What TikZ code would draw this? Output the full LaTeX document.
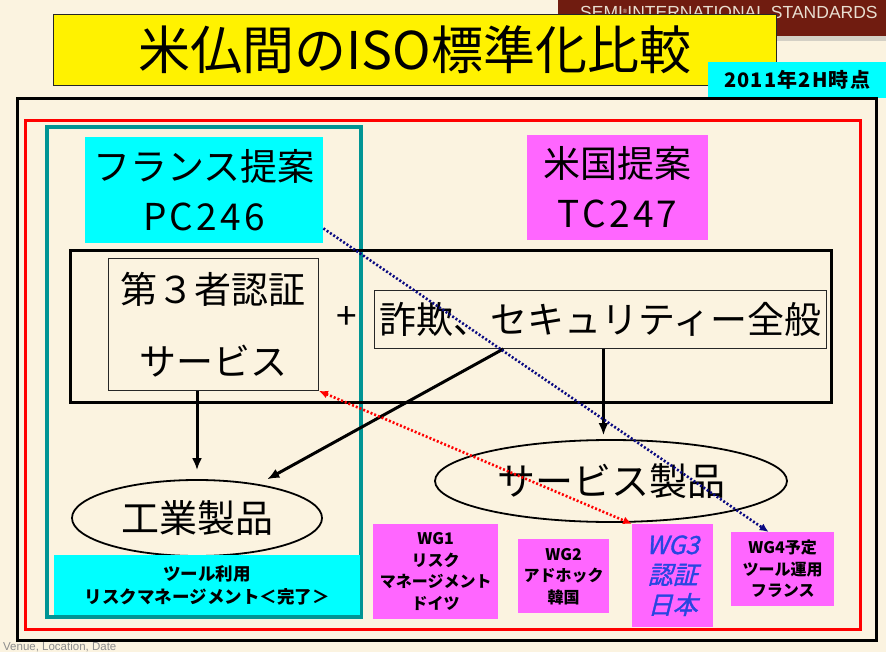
\documentclass[tikz,border=0pt]{standalone}
\usepackage{fontspec}
\setmainfont{Noto Sans CJK JP}
\newfontfamily\bannerfont{Liberation Sans}
\newfontfamily\wgslant{Noto Sans CJK JP}[FakeSlant=0.25, FakeBold=1.3]
\usetikzlibrary{arrows.meta,shapes.geometric}

\begin{document}
\begin{tikzpicture}[
  x=1pt, y=-1pt,
  big/.style={font=\fontsize{37}{50}\selectfont, align=center},
  small/.style={font=\bfseries\fontsize{16}{21.5}\selectfont, align=center},
  fillbox/.style={inner sep=0pt, anchor=north west},
  thinbox/.style={draw=black!85, line width=0.9pt, inner sep=0pt, anchor=north west},
  prod/.style={ellipse, draw=black, line width=1.8pt, inner sep=0pt, font=\fontsize{38}{40}\selectfont},
  frame/.style={line width=3pt},
  flow/.style={draw=black, line width=3pt, -{Latex[length=12pt,width=10pt]}},
  link/.style={line width=2.6pt, dash pattern=on 2pt off 2pt}
]
\definecolor{slidebg}{RGB}{251,243,224}
\definecolor{banner}{RGB}{112,28,16}
\definecolor{bannertext}{RGB}{232,222,208}
\definecolor{panelteal}{RGB}{0,148,148}
\definecolor{boxcyan}{RGB}{0,255,255}
\definecolor{wgpink}{RGB}{255,102,255}
\definecolor{wgblue}{RGB}{40,70,225}
\definecolor{linknavy}{RGB}{10,10,130}

% slide background and template
\fill[slidebg] (0,0) rectangle (886,652);
\useasboundingbox (0,0) rectangle (886,652);
\fill[black!35, opacity=0.45] (562,4) rectangle (886,41);
\node[fillbox, fill=banner, minimum width=328pt, minimum height=36pt] (banner) at (558,0) {};
\node[anchor=base west, inner sep=0pt, text=bannertext,
  font=\bannerfont\fontsize{17.5}{18}\selectfont] (semi) at (580,19)
  {SEMI\raisebox{0.6ex}{\fontsize{6}{6}\selectfont\textregistered}INTERNATIONAL STANDARDS};
\node[anchor=base west, inner sep=0pt, text=black!45,
  font=\bannerfont\fontsize{11.5}{12}\selectfont] (venue) at (3,650) {Venue, Location, Date};

% title
\node[fillbox, fill=yellow, draw=black!85, line width=0.8pt, minimum width=723pt, minimum height=71pt,
  font=\fontsize{52}{52}\selectfont] (title) at (53,14) {米仏間のISO標準化比較};
\node[fillbox, fill=boxcyan, minimum width=178pt, minimum height=36pt,
  font=\bfseries\fontsize{20}{20}\selectfont] (date) at (708,62)
  {\addfontfeature{LetterSpace=6}2011年2H時点};

% frames
\draw[frame] (17,99) rectangle (876,640);
\draw[frame, red] (25,121) rectangle (860,629);
\draw[frame, panelteal, line width=3.5pt] (47,127) rectangle (361,617);

% proposals
\node[fillbox, fill=boxcyan, big, minimum width=238pt, minimum height=106pt] (pc) at (85,137)
  {フランス提案\\{\addfontfeature{LetterSpace=9}PC246}};
\node[fillbox, fill=wgpink, big, minimum width=181pt, minimum height=105pt] (tc) at (527,135)
  {米国提案\\{\addfontfeature{LetterSpace=9}TC247}};

% scope frame
\draw[frame] (70,251) rectangle (831,402);
\node[thinbox, big, minimum width=210pt, minimum height=132pt,
  font=\fontsize{37}{72}\selectfont] (cert) at (108,258) {第３者認証\\サービス};
\node[big, inner sep=0pt] (plus) at (347,318) {+};
\node[thinbox, big, minimum width=452pt, minimum height=58pt] (fraud) at (374,290) {詐欺、セキュリティー全般};

% products
\node[prod, minimum width=250pt, minimum height=76pt] (ind) at (197,518) {工業製品};
\node[prod, minimum width=352pt, minimum height=82pt] (svc) at (611,481) {サービス製品};

% bottom boxes
\node[fillbox, fill=boxcyan, small, font=\bfseries\fontsize{17.5}{22.5}\selectfont,
  minimum width=306pt, minimum height=60pt] (tool) at (54,555) {ツール利用\\リスクマネージメント＜完了＞};
\node[fillbox, fill=wgpink, small, minimum width=125pt, minimum height=95pt] (wg1) at (373,524) {WG1\\リスク\\マネージメント\\ドイツ};
\node[fillbox, fill=wgpink, small, minimum width=91pt, minimum height=74pt] (wg2) at (518,539) {WG2\\アドホック\\韓国};
\node[fillbox, fill=wgpink, align=center, text=wgblue, font=\wgslant\fontsize{25}{30}\selectfont,
  minimum width=81pt, minimum height=103pt] (wg3) at (632,524) {WG3\\認証\\日本};
\node[fillbox, fill=wgpink, small, minimum width=103pt, minimum height=74pt] (wg4) at (731,532) {WG4予定\\ツール運用\\フランス};

% flows
\draw[flow, shorten >=9pt] (cert.south -| ind.north) -- (ind.north);
\draw[flow, shorten >=10pt] ([xshift=-97pt]fraud.south) -- (ind);
\draw[flow, shorten >=4pt] ([xshift=3pt]fraud.south) -- ([xshift=3pt]fraud.south |- svc.north);
\draw[link, linknavy, -{Latex[length=9pt,width=8pt]}] ([yshift=15pt]pc.south east) -- ([xshift=-14pt]wg4.north);
\draw[link, red, {Latex[length=9pt,width=8pt]}-{Latex[length=9pt,width=8pt]}] (cert.south east) -- (wg3.north west);
\end{tikzpicture}
\end{document}
